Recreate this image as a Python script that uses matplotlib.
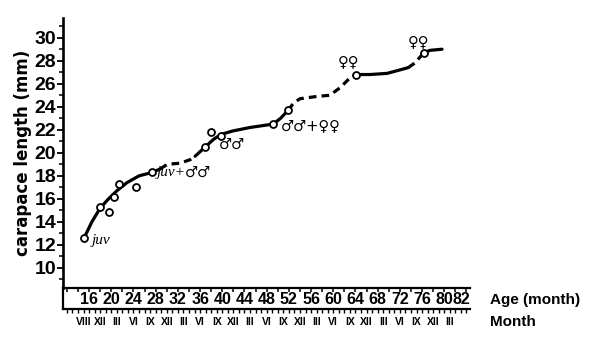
import matplotlib
matplotlib.use("Agg")
import matplotlib.pyplot as plt
from matplotlib.ticker import MultipleLocator

plt.rcParams['font.family'] = ['Liberation Sans Narrow', 'Liberation Sans', 'DejaVu Sans']

# growth curve (age in months, carapace length in mm)
seg1_age = [15.1, 16.5, 18.0, 19.5, 21.0, 22.8, 25.0, 27.4, 28.8]
seg1_len = [12.6, 14.0, 15.2, 16.0, 16.7, 17.4, 18.0, 18.3, 18.6]
seg2_age = [28.8, 30.1, 32.4, 34.2, 35.1]
seg2_len = [18.6, 19.0, 19.1, 19.4, 19.7]
seg3_age = [35.1, 36.9, 38.5, 39.8, 41.9, 45.0, 49.2, 50.5, 51.9]
seg3_len = [19.7, 20.5, 21.2, 21.6, 21.9, 22.2, 22.5, 23.0, 23.7]
seg4_age = [51.9, 52.8, 54.0, 57.1, 59.4, 61.2, 63.0, 64.1]
seg4_len = [23.7, 24.3, 24.7, 24.9, 25.0, 25.65, 26.5, 26.8]
seg5_age = [64.1, 66.6, 69.7, 72.0, 73.5]
seg5_len = [26.8, 26.8, 26.9, 27.2, 27.4]
seg6_age = [73.5, 74.7, 75.6, 76.4]
seg6_len = [27.4, 27.8, 28.3, 28.7]
seg7_age = [76.4, 77.4, 79.6]
seg7_len = [28.7, 28.9, 29.0]

# measured animals
pt_age = [15.1, 18.0, 19.6, 20.5, 21.4, 24.5, 27.4, 36.9, 38.0, 39.8, 49.2, 51.9, 64.1, 76.4]
pt_len = [12.6, 15.3, 14.9, 16.2, 17.3, 17.0, 18.3, 20.5, 21.8, 21.5, 22.5, 23.7, 26.8, 28.7]

age_ticks = [16, 20, 24, 28, 32, 36, 40, 44, 48, 52, 56, 60, 64, 68, 72, 76, 80]
month_pos = [15, 18, 21, 24, 27, 30, 33, 36, 39, 42, 45, 48, 51, 54, 57, 60, 63, 66, 69, 72, 75, 78, 81]
month_names = ['VIII', 'XII', 'III', 'VI', 'IX', 'XII', 'III', 'VI', 'IX', 'XII', 'III', 'VI',
               'IX', 'XII', 'III', 'VI', 'IX', 'XII', 'III', 'VI', 'IX', 'XII', 'III']
len_ticks = [10, 12, 14, 16, 18, 20, 22, 24, 26, 28, 30]

xmin, xmax = 11.3, 84.6

fig = plt.figure(figsize=(6, 3.42), dpi=100)
ax = fig.add_axes([0.105, 0.158, 0.678, 0.789])
strip = fig.add_axes([0.105, 0.0965, 0.678, 0.0614])

lw = 2.3
solid = dict(color='black', lw=lw, solid_capstyle='round', solid_joinstyle='round')
dashed = dict(color='black', lw=lw, dashes=(2.4, 1.6), dash_capstyle='butt')
ax.plot(seg1_age, seg1_len, **solid)
ax.plot(seg2_age, seg2_len, **dashed)
ax.plot(seg3_age, seg3_len, **solid)
ax.plot(seg4_age, seg4_len, **dashed)
ax.plot(seg5_age, seg5_len, **solid)
ax.plot(seg6_age, seg6_len, **dashed)
ax.plot(seg7_age, seg7_len, **solid)
ax.plot(pt_age, pt_len, 'o', ms=5, mfc='white', mec='black', mew=1.3, zorder=5)

ax.set_xlim(xmin, xmax)
ax.set_ylim(8.26, 31.7)
for s in ['top', 'right']:
    ax.spines[s].set_visible(False)
ax.spines['left'].set_linewidth(1.9)
ax.spines['bottom'].set_linewidth(1.6)
ax.set_yticks(len_ticks)
ax.yaxis.set_minor_locator(MultipleLocator(1))
ax.tick_params(axis='y', which='major', length=4, width=1.3, labelsize=14, pad=1)
ax.tick_params(axis='y', which='minor', length=3, width=1.1)
for t in ax.get_yticklabels():
    t.set_fontweight('bold')
ax.set_xticks([])
ax.xaxis.set_minor_locator(MultipleLocator(2))
ax.tick_params(axis='x', which='both', direction='out', length=3, width=1.1,
               labelbottom=False)

ax.set_ylabel('carapace length (mm)', fontsize=12, fontweight='bold',
              family=['DejaVu Sans'], labelpad=2)

# annotations
txt = dict(fontsize=11, style='italic', family=['Liberation Serif'])
ax.text(16.4, 12.4, 'juv', ha='left', va='center', **txt)
ax.text(28.2, 18.3, 'juv+', ha='left', va='center', **txt)
sym = dict(fontsize=10.5, family=['DejaVu Sans'])
ax.text(33.3, 18.3, '♂♂', ha='left', va='center', **sym)
ax.text(39.4, 20.7, '♂♂', ha='left', va='center', **sym)
ax.text(50.6, 22.4, '♂♂+♀♀', ha='left', va='center', **sym)
ax.text(62.8, 27.9, '♀♀', ha='center', va='center', **sym)
ax.text(75.3, 29.7, '♀♀', ha='center', va='center', **sym)

# age strip below the plot
strip.set_xlim(xmin, xmax)
strip.set_ylim(0, 1)
strip.patch.set_alpha(0)
for s in ['top', 'right']:
    strip.spines[s].set_visible(False)
strip.spines['left'].set_linewidth(1.6)
strip.spines['bottom'].set_linewidth(1.6)
strip.set_yticks([])
strip.set_xticks([])
strip.xaxis.set_minor_locator(MultipleLocator(1))
strip.tick_params(axis='x', which='both', direction='out', length=3, width=1.0,
                  labelbottom=False)
for a in age_ticks:
    strip.text(a, 0.45, str(a), ha='center', va='center', fontsize=11.5, fontweight='bold')
strip.text(xmax, 0.45, '82', ha='right', va='center', fontsize=11.5, fontweight='bold')
for p, name in zip(month_pos, month_names):
    strip.text(p, -0.6, name, ha='center', va='center', fontsize=7.5, fontweight='bold')

fig.text(490 / 600, 1 - 300 / 342, 'Age (month)', ha='left', va='center', fontsize=11, fontweight='bold')
fig.text(490 / 600, 1 - 322 / 342, 'Month', ha='left', va='center', fontsize=11, fontweight='bold')

fig.savefig('out.png', dpi=100)
